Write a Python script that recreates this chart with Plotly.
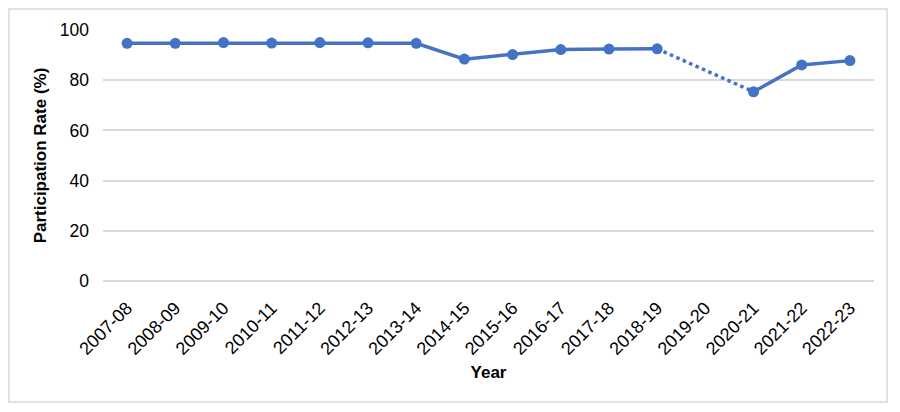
import plotly.graph_objects as go

years = ["2007-08", "2008-09", "2009-10", "2010-11", "2011-12", "2012-13",
         "2013-14", "2014-15", "2015-16", "2016-17", "2017-18", "2018-19",
         "2019-20", "2020-21", "2021-22", "2022-23"]
rate = [94.7, 94.7, 95.0, 94.8, 95.0, 94.9, 94.7, 88.4, 90.2, 92.2, 92.4,
        92.5, None, 75.4, 86.1, 87.8]

blue = "#4472C4"
# page body has an 8px margin, so the figure is a bit smaller than the window
W, H = 884, 396
ml, mr, mt, mb = 95, 18, 22, 123

# dotted bridge over the missing year
gap = rate.index(None)
bridge_x = [years[gap - 1], years[gap + 1]]
bridge_y = [rate[gap - 1], rate[gap + 1]]

fig = go.Figure()
fig.add_trace(go.Scatter(x=years, y=rate, mode="lines+markers",
                         line=dict(color=blue, width=3.5),
                         marker=dict(color=blue, size=11),
                         connectgaps=False))
fig.add_trace(go.Scatter(x=bridge_x, y=bridge_y, mode="lines",
                         line=dict(color=blue, width=3.5, dash="dot"),
                         hoverinfo="skip"))

pw = W - ml - mr
ph = H - mt - mb
fig.add_shape(type="rect", xref="paper", yref="paper",
              x0=-(ml - 1) / pw, x1=1 + (mr - 5) / pw,
              y0=-(mb - 2) / ph, y1=1 + (mt - 1) / ph,
              line=dict(color="#D9D9D9", width=1.5), layer="below")

fig.update_layout(
    width=W, height=H,
    margin=dict(l=ml, r=mr, t=mt, b=mb, autoexpand=False),
    paper_bgcolor="white", plot_bgcolor="white",
    showlegend=False,
    font=dict(family="Liberation Sans, Arial, sans-serif", size=17, color="black"),
    xaxis=dict(title=dict(text="<b>Year</b>", font=dict(size=17), standoff=8),
               type="category", categoryorder="array", categoryarray=years,
               tickangle=-45, tickfont=dict(size=18), ticklabelstandoff=12,
               showgrid=False, showline=False, ticks="",
               range=[-0.5, len(years) - 0.5], automargin=False),
    yaxis=dict(title=dict(text="<b>Participation Rate (%)</b>", font=dict(size=17),
                          standoff=8),
               range=[0, 100], dtick=20, tickfont=dict(size=17.5),
               ticklabelstandoff=13,
               gridcolor="#D9D9D9", gridwidth=1.5, zeroline=True,
               zerolinecolor="#D9D9D9", zerolinewidth=1.5, ticks="",
               showline=False, automargin=False),
)

fig.write_html("out.html")
